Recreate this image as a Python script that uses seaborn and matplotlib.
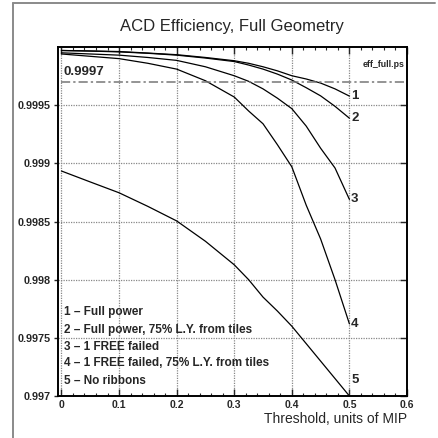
import numpy as np
import pandas as pd
import matplotlib
matplotlib.use("Agg")
import matplotlib.pyplot as plt
from matplotlib.lines import Line2D
import seaborn as sns

sns.set_style("ticks")
plt.rcParams["font.family"] = ["Liberation Sans", "DejaVu Sans"]

# threshold (units of MIP)
thr = [0.0, 0.05, 0.10, 0.15, 0.20, 0.25, 0.30, 0.325, 0.35, 0.375, 0.40, 0.425, 0.45, 0.475, 0.50]

# efficiency curves
eff_1 = [0.99997, 0.999966, 0.999961, 0.999948, 0.999934, 0.99991, 0.999882, 0.99986, 0.99983,
         0.999795, 0.999753, 0.999725, 0.99969, 0.99964, 0.999578]
eff_2 = [0.99997, 0.999965, 0.999958, 0.999946, 0.99993, 0.999905, 0.999875, 0.999845, 0.99981,
         0.999767, 0.999716, 0.99965, 0.99958, 0.99949, 0.999388]
eff_3 = [0.99995, 0.99994, 0.99993, 0.99991, 0.999885, 0.99983, 0.999753, 0.999705, 0.99964,
         0.99956, 0.99947, 0.99932, 0.99913, 0.99896, 0.99869]
eff_4 = [0.99994, 0.99992, 0.9999, 0.99986, 0.99981, 0.99971, 0.99957, 0.99945, 0.99934,
         0.99916, 0.99897, 0.99864, 0.99835, 0.998, 0.99762]
eff_5 = [0.998934, 0.99884, 0.998747, 0.99863, 0.998505, 0.99833, 0.998128, 0.998, 0.99785,
         0.99773, 0.9976, 0.99745, 0.9973, 0.99715, 0.997]

curve_ids = ["1", "2", "3", "4", "5"]
legend_lines = ["1 \u2013 Full power",
                "2 \u2013 Full power, 75% L.Y. from tiles",
                "3 \u2013 1 FREE failed",
                "4 \u2013 1 FREE failed, 75% L.Y. from tiles",
                "5 \u2013 No ribbons"]
ref_level = 0.9997

xticks = [0, 0.1, 0.2, 0.3, 0.4, 0.5, 0.6]
xtick_labels = ["0", "0.1", "0.2", "0.3", "0.4", "0.5", "0.6"]
yticks = [0.997, 0.9975, 0.998, 0.9985, 0.999, 0.9995]
ytick_labels = ["0.997", "0.9975", "0.998", "0.9985", "0.999", "0.9995"]

df = pd.DataFrame({"thr": thr, "1": eff_1, "2": eff_2, "3": eff_3, "4": eff_4, "5": eff_5})

fig = plt.figure(figsize=(4.38, 4.38), dpi=100)
ax = fig.add_axes([58 / 438, 42 / 438, 349 / 438, 349 / 438])

# page frame (top + left)
fig.add_artist(Line2D([13 / 438, 13 / 438], [0, 1 - 3 / 438], transform=fig.transFigure,
                      color="#8a8a8a", lw=1.4))
fig.add_artist(Line2D([13 / 438, 435 / 438], [1 - 3 / 438, 1 - 3 / 438], transform=fig.transFigure,
                      color="#8a8a8a", lw=1.4))

for cid in curve_ids:
    sns.lineplot(data=df, x="thr", y=cid, ax=ax, color="black", lw=0.9)

ax.axhline(ref_level, xmin=0.01, xmax=1, color="#777777", lw=1.1, ls=(0, (6, 2, 1.5, 2)))
ax.text(0.004, ref_level + 0.00003, "0.9997", fontsize=9.5, fontweight="bold", va="bottom")
ax.text(0.595, 0.99985, "eff_full.ps", fontsize=6.3, fontweight="bold", ha="right", va="center")

for cid in curve_ids:
    y_end = df[cid].iloc[-1]
    if cid == "5":
        y_end = 0.99714
    ax.text(0.503, y_end, cid, fontsize=9.5, fontweight="bold", va="center", ha="left")

leg_y = [0.997694, 0.997543, 0.997392, 0.997259, 0.997103]
for t, yy in zip(legend_lines, leg_y):
    ax.text(0.005, yy, t, fontsize=8.5, fontweight="bold", va="baseline", ha="left")

ax.set_xlim(-0.006, 0.6)
ax.set_ylim(0.997, 1.0)
ax.set_xticks(xticks, xtick_labels)
ax.set_xticks(np.arange(0, 0.601, 0.02), minor=True)
ax.set_yticks(yticks, ytick_labels)

for x in [0, 0.1, 0.2, 0.3, 0.4, 0.5]:
    ax.axvline(x, color="#888888", lw=0.9, ls=(0, (1, 1)), zorder=0)
for y in [0.9975, 0.998, 0.9985, 0.999, 0.9995]:
    ax.axhline(y, color="#888888", lw=0.9, ls=(0, (1, 1)), zorder=0)

ax.tick_params(axis="x", which="major", direction="in", top=True, length=5, width=1,
               labelsize=7.5, pad=3)
ax.tick_params(axis="x", which="minor", direction="in", top=True, length=2.5, width=0.8)
ax.tick_params(axis="y", which="major", direction="out", length=3, width=1, labelsize=7.8, pad=2)
for lab in ax.get_xticklabels() + ax.get_yticklabels():
    lab.set_fontweight("bold")

sec = ax.secondary_yaxis("right")
sec.set_yticks(yticks)
sec.tick_params(direction="in", length=5, width=1, labelright=False)
sec.spines["right"].set_visible(False)

for s in ax.spines.values():
    s.set_linewidth(1.4)
    s.set_color("black")

ax.set_xlabel("Threshold, units of MIP", fontsize=10, ha="right", x=1.0, labelpad=1)
ax.set_ylabel("")
fig.text(232 / 438, 1 - 27 / 438, "ACD Efficiency, Full Geometry", fontsize=12,
         ha="center", va="center")

fig.savefig("out.png", dpi=100)
plt.close()
